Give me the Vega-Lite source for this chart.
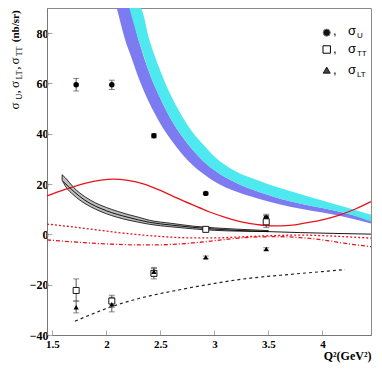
{
"$schema": "https://vega.github.io/schema/vega-lite/v6.json",
"width": 324, "height": 327,
"autosize": {"type": "none"},
"padding": {"left": 47, "top": 8, "right": 11, "bottom": 43},
"background": "white",
"config": {"view": {"stroke": "#8a8a8a", "strokeWidth": 1}},
"datasets": {
"blue": [
{"q":2.096,"v":90,"v2":90},{"q":2.2,"v":74,"v2":90},{"q":2.213,"v":72.5,"v2":90},{"q":2.3,"v":62,"v2":77},{"q":2.4,"v":52,"v2":64},{"q":2.5,"v":44,"v2":54},{"q":2.6,"v":37.5,"v2":45.6},{"q":2.7,"v":32,"v2":39},{"q":2.8,"v":27.5,"v2":33.5},{"q":2.9,"v":24,"v2":29},{"q":3.0,"v":21,"v2":25.5},{"q":3.2,"v":17,"v2":20.5},{"q":3.4,"v":14.3,"v2":17},{"q":3.6,"v":12,"v2":14.3},{"q":3.8,"v":10.2,"v2":12.2},{"q":4.0,"v":8.7,"v2":10.5},{"q":4.2,"v":7.0,"v2":8.6},{"q":4.45,"v":4.3,"v2":5.8}
],
"cyan": [
{"q":2.213,"v":90,"v2":90},{"q":2.3,"v":77,"v2":90},{"q":2.312,"v":75.5,"v2":90},{"q":2.4,"v":64,"v2":77},{"q":2.5,"v":54,"v2":65},{"q":2.6,"v":45.6,"v2":55},{"q":2.72,"v":38,"v2":45.6},{"q":2.8,"v":33.5,"v2":40.5},{"q":2.9,"v":29,"v2":35.5},{"q":3.0,"v":25.5,"v2":31},{"q":3.2,"v":20.5,"v2":25},{"q":3.4,"v":17,"v2":21.5},{"q":3.6,"v":14.3,"v2":18.5},{"q":3.8,"v":12.2,"v2":16},{"q":4.0,"v":10.5,"v2":13.5},{"q":4.2,"v":8.6,"v2":11},{"q":4.45,"v":5.1,"v2":7.8}
],
"hatch": [
{"q":1.59,"v":21.5,"v2":23.7},{"q":1.62,"v":19.2,"v2":22.5},{"q":1.7,"v":15.5,"v2":18.5},{"q":1.8,"v":12.3,"v2":15},{"q":1.9,"v":10,"v2":12.5},{"q":2.0,"v":8.2,"v2":10.7},{"q":2.1,"v":6.8,"v2":9.2},{"q":2.2,"v":5.7,"v2":7.9},{"q":2.3,"v":4.8,"v2":6.8},{"q":2.4,"v":4.0,"v2":5.6},{"q":2.6,"v":3.0,"v2":4.4},{"q":2.8,"v":2.2,"v2":3.3},{"q":3.0,"v":1.6,"v2":2.6},{"q":3.2,"v":1.3,"v2":2.1},{"q":3.5,"v":1.1,"v2":1.5}
],
"curves": [
{"s":"rs","q":1.45,"v":15.3},{"s":"rs","q":1.6,"v":17.6},{"s":"rs","q":1.8,"v":20.3},{"s":"rs","q":1.95,"v":21.6},{"s":"rs","q":2.06,"v":22.0},{"s":"rs","q":2.2,"v":21.5},{"s":"rs","q":2.35,"v":20.0},{"s":"rs","q":2.5,"v":17.5},{"s":"rs","q":2.65,"v":14.5},{"s":"rs","q":2.8,"v":11.7},{"s":"rs","q":2.95,"v":9.0},{"s":"rs","q":3.1,"v":6.8},{"s":"rs","q":3.25,"v":5.0},{"s":"rs","q":3.4,"v":3.9},{"s":"rs","q":3.53,"v":3.4},{"s":"rs","q":3.7,"v":3.6},{"s":"rs","q":3.85,"v":4.6},{"s":"rs","q":4.0,"v":5.8},{"s":"rs","q":4.15,"v":7.6},{"s":"rs","q":4.3,"v":10.0},{"s":"rs","q":4.45,"v":13.0},
{"s":"rd","q":1.45,"v":4.1},{"s":"rd","q":1.6,"v":3.4},{"s":"rd","q":1.8,"v":2.4},{"s":"rd","q":2.0,"v":1.3},{"s":"rd","q":2.2,"v":0.3},{"s":"rd","q":2.4,"v":-0.5},{"s":"rd","q":2.6,"v":-1.1},{"s":"rd","q":2.8,"v":-1.4},{"s":"rd","q":3.0,"v":-1.4},{"s":"rd","q":3.2,"v":-1.1},{"s":"rd","q":3.4,"v":-0.7},{"s":"rd","q":3.6,"v":-0.4},{"s":"rd","q":3.8,"v":-0.3},{"s":"rd","q":4.0,"v":-0.5},{"s":"rd","q":4.2,"v":-0.9},{"s":"rd","q":4.45,"v":-1.5},
{"s":"rdd","q":1.45,"v":-2.2},{"s":"rdd","q":1.6,"v":-2.7},{"s":"rdd","q":1.8,"v":-3.3},{"s":"rdd","q":2.0,"v":-3.8},{"s":"rdd","q":2.2,"v":-4.1},{"s":"rdd","q":2.4,"v":-4.2},{"s":"rdd","q":2.6,"v":-4.0},{"s":"rdd","q":2.8,"v":-3.4},{"s":"rdd","q":3.0,"v":-2.5},{"s":"rdd","q":3.2,"v":-1.6},{"s":"rdd","q":3.4,"v":-1.0},{"s":"rdd","q":3.6,"v":-0.9},{"s":"rdd","q":3.8,"v":-1.3},{"s":"rdd","q":4.0,"v":-2.2},{"s":"rdd","q":4.2,"v":-3.5},{"s":"rdd","q":4.45,"v":-4.9},
{"s":"bs","q":1.6,"v":21},{"s":"bs","q":1.8,"v":13.6},{"s":"bs","q":2.0,"v":9.4},{"s":"bs","q":2.2,"v":6.8},{"s":"bs","q":2.4,"v":4.8},{"s":"bs","q":2.6,"v":3.7},{"s":"bs","q":2.8,"v":2.8},{"s":"bs","q":3.0,"v":2.1},{"s":"bs","q":3.2,"v":1.6},{"s":"bs","q":3.5,"v":1.1},{"s":"bs","q":3.8,"v":0.7},{"s":"bs","q":4.1,"v":0.4},{"s":"bs","q":4.45,"v":0.1},
{"s":"bd","q":1.71,"v":-34.5},{"s":"bd","q":1.85,"v":-32},{"s":"bd","q":2.05,"v":-28.7},{"s":"bd","q":2.3,"v":-25.5},{"s":"bd","q":2.68,"v":-22},{"s":"bd","q":3.0,"v":-19.5},{"s":"bd","q":3.24,"v":-17.9},{"s":"bd","q":3.7,"v":-15.9},{"s":"bd","q":4.0,"v":-14.8},{"s":"bd","q":4.21,"v":-14.0}
],
"pts": [
{"q":1.72,"t":"U","v":59.5,"lo":57.0,"hi":62.0},{"q":2.05,"t":"U","v":59.5,"lo":57.6,"hi":61.3},{"q":2.44,"t":"U","v":39.2,"lo":38.4,"hi":40.0},{"q":2.92,"t":"U","v":16.3,"lo":15.8,"hi":16.8},{"q":3.48,"t":"U","v":6.5,"lo":5.0,"hi":8.0},
{"q":1.72,"t":"TT","v":-22.3,"lo":-26.5,"hi":-17.7},{"q":2.05,"t":"TT","v":-26.5,"lo":-29.0,"hi":-24.2},{"q":2.44,"t":"TT","v":-15.5,"lo":-17.7,"hi":-13.5},{"q":2.92,"t":"TT","v":2.0,"lo":1.5,"hi":2.5},{"q":3.48,"t":"TT","v":5.0,"lo":2.7,"hi":7.5},
{"q":1.72,"t":"LT","v":-29.0,"lo":-31.2,"hi":-26.5},{"q":2.05,"t":"LT","v":-27.8,"lo":-30.8,"hi":-25.0},{"q":2.44,"t":"LT","v":-14.8,"lo":-16.5,"hi":-13.2},{"q":2.92,"t":"LT","v":-9.1,"lo":-9.6,"hi":-8.6},{"q":3.48,"t":"LT","v":-5.8,"lo":-6.3,"hi":-5.3}
],
"legmark": [
{"q":4.04,"v":80.2,"t":"U"},{"q":4.04,"v":73.5,"t":"TT"},{"q":4.04,"v":65.3,"t":"LT"}
],
"legtext": [
{"q":4.098,"v":79.1,"txt":",","k":"n"},{"q":4.098,"v":72.2,"txt":",","k":"n"},{"q":4.098,"v":63.7,"txt":",","k":"n"},
{"q":4.237,"v":79.1,"txt":"σ","k":"n"},{"q":4.237,"v":72.2,"txt":"σ","k":"n"},{"q":4.237,"v":63.7,"txt":"σ","k":"n"},
{"q":4.32,"v":79.1,"txt":"U","k":"s"},{"q":4.32,"v":72.2,"txt":"TT","k":"s"},{"q":4.32,"v":63.7,"txt":"LT","k":"s"}
],
"ytitle": [
{"q":1.191,"v":49.6,"txt":"σ","k":"n"},{"q":1.191,"v":53.6,"txt":"U","k":"s"},{"q":1.191,"v":56.0,"txt":",","k":"n"},
{"q":1.191,"v":58.2,"txt":"σ","k":"n"},{"q":1.191,"v":61.6,"txt":"LT","k":"s"},{"q":1.191,"v":65.5,"txt":",","k":"n"},
{"q":1.191,"v":67.5,"txt":"σ","k":"n"},{"q":1.191,"v":70.8,"txt":"TT","k":"s"},{"q":1.191,"v":76.4,"txt":"(nb/sr)","k":"b"}
]
},
"encoding": {
"x": {"field": "q", "type": "quantitative",
  "scale": {"domain": [1.45, 4.45], "nice": false, "zero": false},
  "axis": {"values": [1.5, 2, 2.5, 3, 3.5, 4], "format": "~g", "grid": false, "labelFlush": false, "labelOverlap": false,
    "labelFont": "Liberation Serif", "labelFontWeight": "bold", "labelFontSize": 11, "labelColor": "black", "labelPadding": 8,
    "tickSize": -5, "tickColor": "#aaaaaa", "domainColor": "#777777",
    "title": "Q²(GeV²)", "titleAnchor": "end", "titleFont": "Liberation Serif", "titleFontWeight": "bold", "titleFontSize": 12, "titleColor": "black", "titlePadding": 1}},
"y": {"field": "v", "type": "quantitative",
  "scale": {"domain": [-40, 90], "nice": false, "zero": false},
  "axis": {"values": [-40, -20, 0, 20, 40, 60, 80], "format": "d", "grid": false, "labelFlush": false, "labelOverlap": false,
    "labelFont": "Liberation Serif", "labelFontWeight": "bold", "labelFontSize": 12, "labelColor": "black", "labelPadding": 4,
    "tickSize": -5, "tickColor": "#aaaaaa", "domainColor": "#777777", "title": null}}
},
"layer": [
{"data": {"name": "blue"}, "mark": {"type": "area", "color": "#7c7cf0", "opacity": 1, "interpolate": "monotone"},
 "encoding": {"y2": {"field": "v2"}}},
{"data": {"name": "cyan"}, "mark": {"type": "area", "color": "#4ee8ef", "opacity": 1, "interpolate": "monotone"},
 "encoding": {"y2": {"field": "v2"}}},
{"data": {"name": "hatch"}, "mark": {"type": "area", "fill": "#bdbdbd", "stroke": "black", "strokeWidth": 0.8, "interpolate": "monotone"},
 "encoding": {"y2": {"field": "v2"}}},
{"data": {"name": "curves"}, "transform": [{"filter": "datum.s == 'rs'"}], "mark": {"type": "line", "color": "#e8141c", "strokeWidth": 1.3, "interpolate": "monotone"}, "encoding": {}},
{"data": {"name": "curves"}, "transform": [{"filter": "datum.s == 'rd'"}], "mark": {"type": "line", "color": "#e8141c", "strokeWidth": 1.3, "strokeDash": [2, 2], "interpolate": "monotone"}, "encoding": {}},
{"data": {"name": "curves"}, "transform": [{"filter": "datum.s == 'rdd'"}], "mark": {"type": "line", "color": "#e8141c", "strokeWidth": 1.3, "strokeDash": [4, 2, 1, 2], "interpolate": "monotone"}, "encoding": {}},
{"data": {"name": "curves"}, "transform": [{"filter": "datum.s == 'bs'"}], "mark": {"type": "line", "color": "black", "strokeWidth": 0.9, "interpolate": "monotone"}, "encoding": {}},
{"data": {"name": "curves"}, "transform": [{"filter": "datum.s == 'bd'"}], "mark": {"type": "line", "color": "#222222", "strokeWidth": 1.2, "strokeDash": [3, 3], "interpolate": "monotone"}, "encoding": {}},
{"data": {"name": "pts"}, "mark": {"type": "rule", "color": "#555555", "strokeWidth": 1},
 "encoding": {"y": {"field": "lo", "type": "quantitative", "scale": {"domain": [-40, 90], "nice": false, "zero": false}}, "y2": {"field": "hi"}}},
{"data": {"name": "pts"}, "mark": {"type": "tick", "orient": "horizontal", "color": "#555555", "thickness": 1, "size": 6},
 "encoding": {"y": {"field": "lo", "type": "quantitative", "scale": {"domain": [-40, 90], "nice": false, "zero": false}}}},
{"data": {"name": "pts"}, "mark": {"type": "tick", "orient": "horizontal", "color": "#555555", "thickness": 1, "size": 6},
 "encoding": {"y": {"field": "hi", "type": "quantitative", "scale": {"domain": [-40, 90], "nice": false, "zero": false}}}},
{"data": {"name": "pts"}, "transform": [{"filter": "datum.t == 'U'"}], "mark": {"type": "point", "shape": "circle", "filled": true, "color": "black", "size": 30, "opacity": 1}, "encoding": {}},
{"data": {"name": "pts"}, "transform": [{"filter": "datum.t == 'TT'"}], "mark": {"type": "point", "shape": "square", "filled": true, "fill": "white", "stroke": "black", "strokeWidth": 0.9, "size": 36, "opacity": 1}, "encoding": {}},
{"data": {"name": "pts"}, "transform": [{"filter": "datum.t == 'LT'"}], "mark": {"type": "point", "shape": "triangle-up", "filled": true, "color": "black", "size": 28, "opacity": 1}, "encoding": {}},
{"data": {"name": "legmark"}, "transform": [{"filter": "datum.t == 'U'"}], "mark": {"type": "point", "shape": "circle", "filled": true, "fill": "#111111", "stroke": "#777777", "strokeWidth": 1, "size": 50, "opacity": 1}, "encoding": {}},
{"data": {"name": "legmark"}, "transform": [{"filter": "datum.t == 'TT'"}], "mark": {"type": "point", "shape": "square", "filled": true, "fill": "white", "stroke": "black", "strokeWidth": 1, "size": 55, "opacity": 1}, "encoding": {}},
{"data": {"name": "legmark"}, "transform": [{"filter": "datum.t == 'LT'"}], "mark": {"type": "point", "shape": "triangle-up", "filled": true, "fill": "#444444", "stroke": "black", "strokeWidth": 0.8, "size": 50, "opacity": 1}, "encoding": {}},
{"data": {"name": "legtext"}, "transform": [{"filter": "datum.k == 'n'"}], "mark": {"type": "text", "align": "left", "baseline": "alphabetic", "font": "Liberation Sans", "fontSize": 13, "color": "black"}, "encoding": {"text": {"field": "txt"}}},
{"data": {"name": "legtext"}, "transform": [{"filter": "datum.k == 's'"}], "mark": {"type": "text", "align": "left", "baseline": "alphabetic", "font": "Liberation Sans", "fontSize": 8, "dy": 3, "color": "black"}, "encoding": {"text": {"field": "txt"}}},
{"data": {"name": "ytitle"}, "transform": [{"filter": "datum.k == 'n'"}], "mark": {"type": "text", "align": "left", "baseline": "alphabetic", "angle": 270, "font": "Liberation Serif", "fontSize": 13, "color": "black"}, "encoding": {"text": {"field": "txt"}}},
{"data": {"name": "ytitle"}, "transform": [{"filter": "datum.k == 's'"}], "mark": {"type": "text", "align": "left", "baseline": "alphabetic", "angle": 270, "font": "Liberation Serif", "fontSize": 8, "dy": 3, "color": "black"}, "encoding": {"text": {"field": "txt"}}},
{"data": {"name": "ytitle"}, "transform": [{"filter": "datum.k == 'b'"}], "mark": {"type": "text", "align": "left", "baseline": "alphabetic", "angle": 270, "font": "Liberation Serif", "fontSize": 11, "fontWeight": "bold", "color": "black"}, "encoding": {"text": {"field": "txt"}}}
]
}
